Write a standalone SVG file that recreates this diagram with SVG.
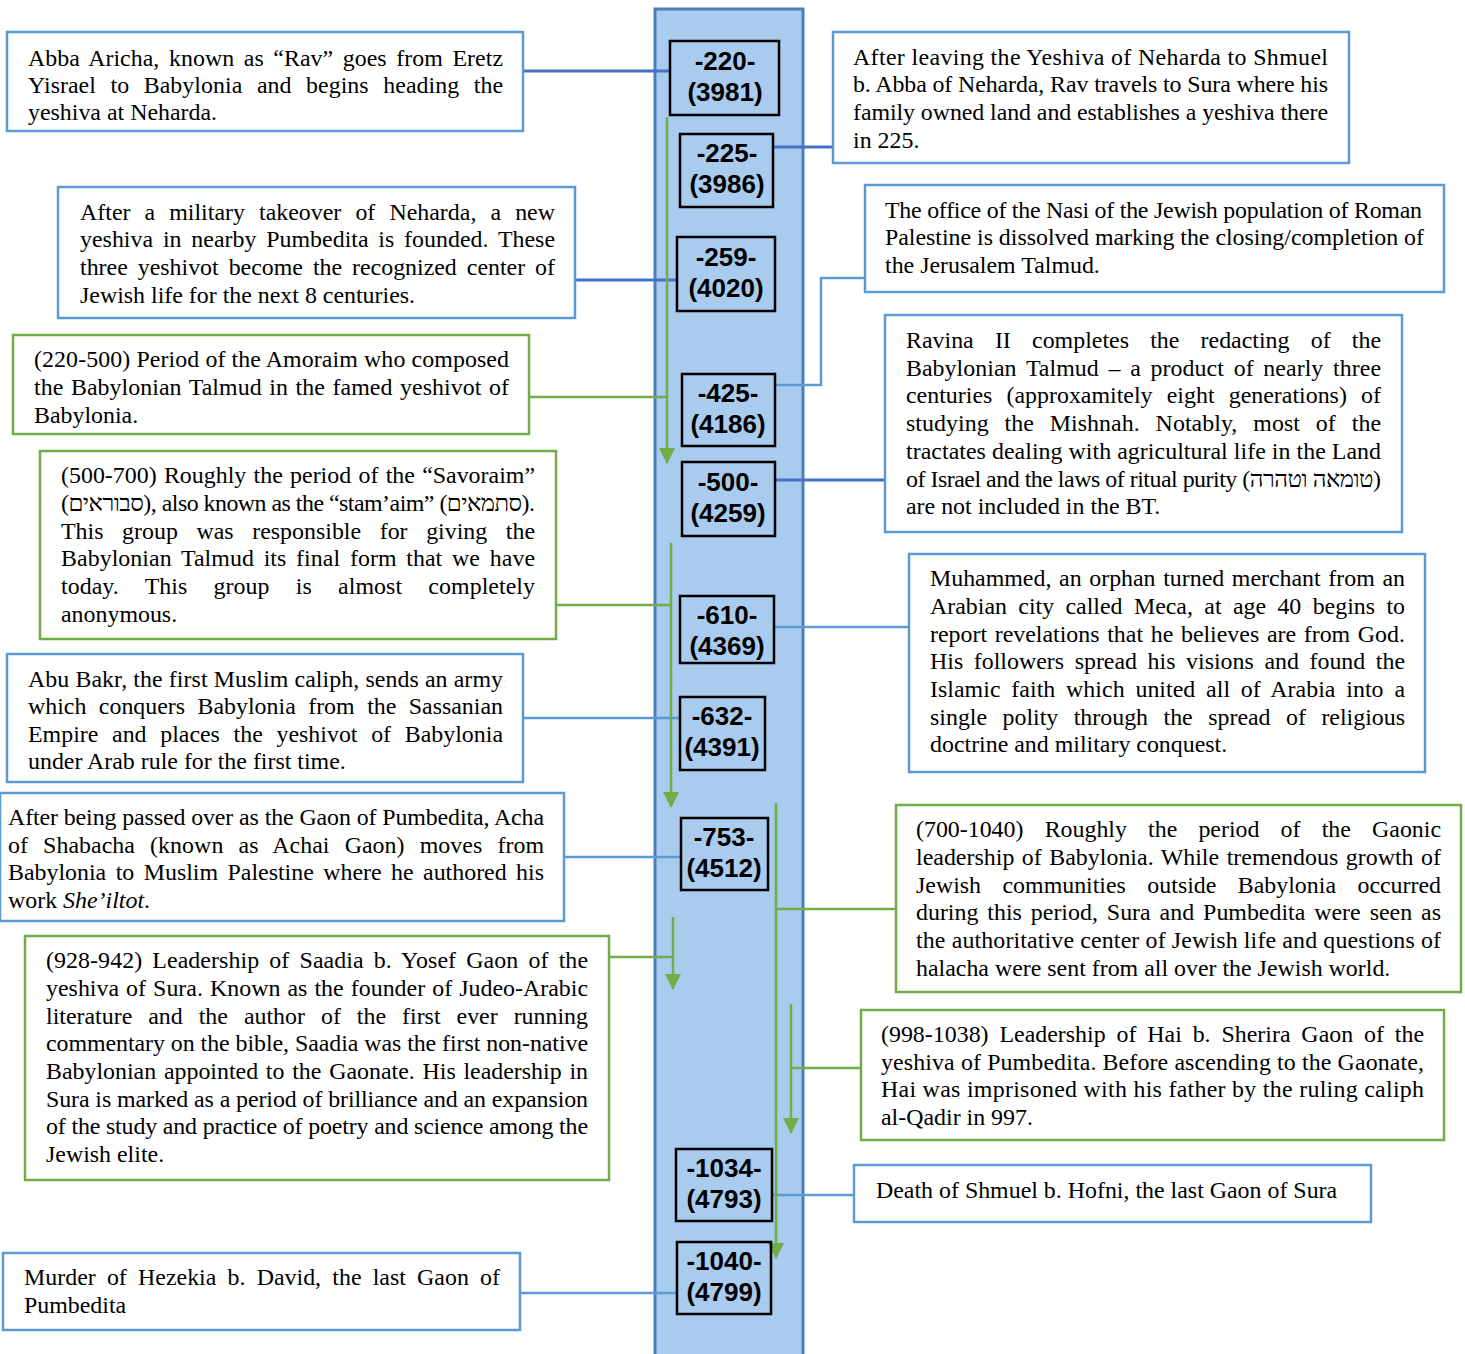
<svg xmlns="http://www.w3.org/2000/svg" width="1465" height="1354" viewBox="0 0 1465 1354">
<defs>
<style>
.t{font-family:"Liberation Serif","DejaVu Serif",serif;font-size:23.9px;fill:#000}
.d{font-family:"Liberation Sans","DejaVu Sans",sans-serif;font-size:26px;font-weight:bold;fill:#000;text-anchor:middle}
.bb{fill:#fff;stroke:#5B9BD5;stroke-width:2.5}
.gb{fill:#fff;stroke:#70AD47;stroke-width:2.5}
.db{fill:none;stroke:#000;stroke-width:2.5}
.cd{fill:none;stroke:#4472C4;stroke-width:3}
.cl{fill:none;stroke:#5B9BD5;stroke-width:2.5}
.cg{fill:none;stroke:#70AD47;stroke-width:2.5}
.ca{fill:none;stroke:#70AD47;stroke-width:2.5;marker-end:url(#ga)}
</style>
<marker id="ga" markerUnits="userSpaceOnUse" viewBox="0 0 16 16" markerWidth="16" markerHeight="16" refX="15" refY="8" orient="auto">
<path d="M0,0 L16,8 L0,16 z" fill="#70AD47"/>
</marker>
</defs>

<rect id="timeline" x="655" y="9" width="148" height="1360" fill="#A9CBEE" stroke="#4A7EBB" stroke-width="3"/>

<g id="connectors">
<line class="cd" x1="523" y1="71" x2="670" y2="71"/>
<line class="cd" x1="773" y1="147" x2="833" y2="147"/>
<line class="cd" x1="575" y1="280" x2="677" y2="280"/>
<polyline class="cl" points="775,385 821,385 821,278 865,278"/>
<line class="cd" x1="775" y1="480" x2="885" y2="480"/>
<line class="cl" x1="775" y1="627" x2="909" y2="627"/>
<line class="cl" x1="523" y1="718" x2="680" y2="718"/>
<line class="cl" x1="564" y1="857" x2="681" y2="857"/>
<line class="cl" x1="772" y1="1195" x2="854" y2="1195"/>
<line class="cl" x1="520" y1="1293" x2="677" y2="1293"/>
<line class="cg" x1="529" y1="397" x2="667" y2="397"/>
<line class="ca" x1="667" y1="117" x2="667" y2="463"/>
<line class="cg" x1="556" y1="605" x2="671" y2="605"/>
<line class="ca" x1="671" y1="543" x2="671" y2="807"/>
<line class="cg" x1="609" y1="957" x2="673" y2="957"/>
<line class="ca" x1="673" y1="917" x2="673" y2="989"/>
<line class="cg" x1="776" y1="909" x2="896" y2="909"/>
<line class="ca" x1="776" y1="803" x2="776" y2="1258"/>
<line class="cg" x1="791" y1="1068" x2="861" y2="1068"/>
<line class="ca" x1="791" y1="1004" x2="791" y2="1133"/>
</g>

<g id="d220"><rect class="db" x="670" y="41" width="109" height="74"/><text class="d" x="725" y="70">-220-</text><text class="d" x="725" y="101">(3981)</text></g>
<g id="d225"><rect class="db" x="680" y="134" width="93" height="73"/><text class="d" x="727" y="162">-225-</text><text class="d" x="727" y="193">(3986)</text></g>
<g id="d259"><rect class="db" x="677" y="237" width="98" height="74"/><text class="d" x="726" y="266">-259-</text><text class="d" x="726" y="297">(4020)</text></g>
<g id="d425"><rect class="db" x="682" y="374" width="93" height="72"/><text class="d" x="728" y="402">-425-</text><text class="d" x="728" y="433">(4186)</text></g>
<g id="d500"><rect class="db" x="682" y="462" width="93" height="74"/><text class="d" x="728" y="491">-500-</text><text class="d" x="728" y="522">(4259)</text></g>
<g id="d610"><rect class="db" x="680" y="596" width="94" height="67"/><text class="d" x="727" y="624">-610-</text><text class="d" x="727" y="655">(4369)</text></g>
<g id="d632"><rect class="db" x="680" y="697" width="85" height="73"/><text class="d" x="722" y="725">-632-</text><text class="d" x="722" y="756">(4391)</text></g>
<g id="d753"><rect class="db" x="681" y="818" width="87" height="72"/><text class="d" x="724" y="846">-753-</text><text class="d" x="724" y="877">(4512)</text></g>
<g id="d1034"><rect class="db" x="676" y="1149" width="96" height="72"/><text class="d" x="724" y="1177">-1034-</text><text class="d" x="724" y="1208">(4793)</text></g>
<g id="d1040"><rect class="db" x="677" y="1242" width="94" height="72"/><text class="d" x="724" y="1270">-1040-</text><text class="d" x="724" y="1301">(4799)</text></g>

<g id="n-abba"><rect class="bb" x="7" y="32" width="516" height="99"/>
<text class="t" x="28" y="66" textLength="475" lengthAdjust="spacing" style="word-spacing:3.6px">Abba Aricha, known as “Rav” goes from Eretz</text>
<text class="t" x="28" y="93" textLength="475" lengthAdjust="spacing" style="word-spacing:8.6px">Yisrael to Babylonia and begins heading the</text>
<text class="t" x="28" y="120">yeshiva at Neharda.</text></g>

<g id="n-225"><rect class="bb" x="833" y="32" width="516" height="131"/>
<text class="t" x="853" y="65" textLength="475" lengthAdjust="spacing">After leaving the Yeshiva of Neharda to Shmuel</text>
<text class="t" x="853" y="92" textLength="475" lengthAdjust="spacing">b. Abba of Neharda, Rav travels to Sura where his</text>
<text class="t" x="853" y="120" textLength="475" lengthAdjust="spacing">family owned land and establishes a yeshiva there</text>
<text class="t" x="853" y="148">in 225.</text></g>

<g id="n-259"><rect class="bb" x="58" y="187" width="517" height="131"/>
<text class="t" x="80" y="220" textLength="475" lengthAdjust="spacing" style="word-spacing:8.1px">After a military takeover of Neharda, a new</text>
<text class="t" x="80" y="247" textLength="475" lengthAdjust="spacing" style="word-spacing:3.8px">yeshiva in nearby Pumbedita is founded. These</text>
<text class="t" x="80" y="275" textLength="475" lengthAdjust="spacing" style="word-spacing:4px">three yeshivot become the recognized center of</text>
<text class="t" x="80" y="303">Jewish life for the next 8 centuries.</text></g>

<g id="n-nasi"><rect class="bb" x="865" y="185" width="579" height="107"/>
<text class="t" x="885" y="218" textLength="537" lengthAdjust="spacing">The office of the Nasi of the Jewish population of Roman</text>
<text class="t" x="885" y="245" textLength="539" lengthAdjust="spacing">Palestine is dissolved marking the closing/completion of</text>
<text class="t" x="885" y="273">the Jerusalem Talmud.</text></g>

<g id="n-amoraim"><rect class="gb" x="13" y="335" width="516" height="99"/>
<text class="t" x="34" y="367" textLength="475" lengthAdjust="spacing">(220-500) Period of the Amoraim who composed</text>
<text class="t" x="34" y="395" textLength="475" lengthAdjust="spacing" style="word-spacing:1.6px">the Babylonian Talmud in the famed yeshivot of</text>
<text class="t" x="34" y="423">Babylonia.</text></g>

<g id="n-ravina"><rect class="bb" x="885" y="315" width="517" height="217"/>
<text class="t" x="906" y="348" textLength="475" lengthAdjust="spacing" style="word-spacing:15.2px">Ravina II completes the redacting of the</text>
<text class="t" x="906" y="376" textLength="475" lengthAdjust="spacing" style="word-spacing:3.7px">Babylonian Talmud – a product of nearly three</text>
<text class="t" x="906" y="403" textLength="475" lengthAdjust="spacing" style="word-spacing:8.2px">centuries (approxamitely eight generations) of</text>
<text class="t" x="906" y="431" textLength="475" lengthAdjust="spacing" style="word-spacing:9.9px">studying the Mishnah. Notably, most of the</text>
<text class="t" x="906" y="459" textLength="475" lengthAdjust="spacing">tractates dealing with agricultural life in the Land</text>
<text class="t" x="906" y="487" textLength="475" lengthAdjust="spacing">of Israel and the laws of ritual purity (טומאה וטהרה)</text>
<text class="t" x="906" y="514">are not included in the BT.</text></g>

<g id="n-savoraim"><rect class="gb" x="40" y="451" width="516" height="188"/>
<text class="t" x="61" y="483" textLength="474" lengthAdjust="spacing" style="word-spacing:1.3px">(500-700) Roughly the period of the “Savoraim”</text>
<text class="t" x="61" y="511" textLength="474" lengthAdjust="spacing">(סבוראים), also known as the “stam’aim” (סתמאים).</text>
<text class="t" x="61" y="539" textLength="474" lengthAdjust="spacing" style="word-spacing:12.6px">This group was responsible for giving the</text>
<text class="t" x="61" y="566" textLength="474" lengthAdjust="spacing" style="word-spacing:3.7px">Babylonian Talmud its final form that we have</text>
<text class="t" x="61" y="594" textLength="474" lengthAdjust="spacing" style="word-spacing:20.2px">today. This group is almost completely</text>
<text class="t" x="61" y="622">anonymous.</text></g>

<g id="n-muhammed"><rect class="bb" x="909" y="554" width="516" height="218"/>
<text class="t" x="930" y="586" textLength="475" lengthAdjust="spacing" style="word-spacing:1.7px">Muhammed, an orphan turned merchant from an</text>
<text class="t" x="930" y="614" textLength="475" lengthAdjust="spacing" style="word-spacing:5.4px">Arabian city called Meca, at age 40 begins to</text>
<text class="t" x="930" y="642" textLength="475" lengthAdjust="spacing" style="word-spacing:1.7px">report revelations that he believes are from God.</text>
<text class="t" x="930" y="669" textLength="475" lengthAdjust="spacing" style="word-spacing:4.6px">His followers spread his visions and found the</text>
<text class="t" x="930" y="697" textLength="475" lengthAdjust="spacing" style="word-spacing:4.8px">Islamic faith which united all of Arabia into a</text>
<text class="t" x="930" y="725" textLength="475" lengthAdjust="spacing" style="word-spacing:9.5px">single polity through the spread of religious</text>
<text class="t" x="930" y="752">doctrine and military conquest.</text></g>

<g id="n-abubakr"><rect class="bb" x="7" y="654" width="516" height="128"/>
<text class="t" x="28" y="687" textLength="475" lengthAdjust="spacing">Abu Bakr, the first Muslim caliph, sends an army</text>
<text class="t" x="28" y="714" textLength="475" lengthAdjust="spacing" style="word-spacing:6.5px">which conquers Babylonia from the Sassanian</text>
<text class="t" x="28" y="742" textLength="475" lengthAdjust="spacing" style="word-spacing:7.7px">Empire and places the yeshivot of Babylonia</text>
<text class="t" x="28" y="769">under Arab rule for the first time.</text></g>

<g id="n-acha"><rect class="bb" x="0" y="793" width="564" height="128"/>
<text class="t" x="8" y="825" textLength="536" lengthAdjust="spacing">After being passed over as the Gaon of Pumbedita, Acha</text>
<text class="t" x="8" y="853" textLength="536" lengthAdjust="spacing" style="word-spacing:9.1px">of Shabacha (known as Achai Gaon) moves from</text>
<text class="t" x="8" y="880" textLength="536" lengthAdjust="spacing" style="word-spacing:3.5px">Babylonia to Muslim Palestine where he authored his</text>
<text class="t" x="8" y="908">work <tspan font-style="italic">She’iltot</tspan>.</text></g>

<g id="n-gaonic"><rect class="gb" x="896" y="805" width="565" height="187"/>
<text class="t" x="916" y="837" textLength="525" lengthAdjust="spacing" style="word-spacing:15.2px">(700-1040) Roughly the period of the Gaonic</text>
<text class="t" x="916" y="865" textLength="525" lengthAdjust="spacing" style="word-spacing:1.5px">leadership of Babylonia. While tremendous growth of</text>
<text class="t" x="916" y="893" textLength="525" lengthAdjust="spacing" style="word-spacing:15.5px">Jewish communities outside Babylonia occurred</text>
<text class="t" x="916" y="920" textLength="525" lengthAdjust="spacing" style="word-spacing:3px">during this period, Sura and Pumbedita were seen as</text>
<text class="t" x="916" y="948" textLength="525" lengthAdjust="spacing">the authoritative center of Jewish life and questions of</text>
<text class="t" x="916" y="976">halacha were sent from all over the Jewish world.</text></g>

<g id="n-saadia"><rect class="gb" x="25" y="936" width="584" height="244"/>
<text class="t" x="46" y="968" textLength="542" lengthAdjust="spacing" style="word-spacing:4.1px">(928-942) Leadership of Saadia b. Yosef Gaon of the</text>
<text class="t" x="46" y="996" textLength="542" lengthAdjust="spacing" style="word-spacing:1.1px">yeshiva of Sura. Known as the founder of Judeo-Arabic</text>
<text class="t" x="46" y="1024" textLength="542" lengthAdjust="spacing" style="word-spacing:10px">literature and the author of the first ever running</text>
<text class="t" x="46" y="1051" textLength="542" lengthAdjust="spacing">commentary on the bible, Saadia was the first non-native</text>
<text class="t" x="46" y="1079" textLength="542" lengthAdjust="spacing" style="word-spacing:1.8px">Babylonian appointed to the Gaonate. His leadership in</text>
<text class="t" x="46" y="1107" textLength="542" lengthAdjust="spacing">Sura is marked as a period of brilliance and an expansion</text>
<text class="t" x="46" y="1134" textLength="542" lengthAdjust="spacing">of the study and practice of poetry and science among the</text>
<text class="t" x="46" y="1162">Jewish elite.</text></g>

<g id="n-hai"><rect class="gb" x="861" y="1010" width="583" height="130"/>
<text class="t" x="881" y="1042" textLength="543" lengthAdjust="spacing" style="word-spacing:4.9px">(998-1038) Leadership of Hai b. Sherira Gaon of the</text>
<text class="t" x="881" y="1070" textLength="543" lengthAdjust="spacing">yeshiva of Pumbedita. Before ascending to the Gaonate,</text>
<text class="t" x="881" y="1097" textLength="543" lengthAdjust="spacing">Hai was imprisoned with his father by the ruling caliph</text>
<text class="t" x="881" y="1125">al-Qadir in 997.</text></g>

<g id="n-hofni"><rect class="bb" x="854" y="1165" width="517" height="57"/>
<text class="t" x="876" y="1198">Death of Shmuel b. Hofni, the last Gaon of Sura</text></g>

<g id="n-hezekia"><rect class="bb" x="3" y="1253" width="517" height="77"/>
<text class="t" x="24" y="1285" textLength="476" lengthAdjust="spacing" style="word-spacing:5.2px">Murder of Hezekia b. David, the last Gaon of</text>
<text class="t" x="24" y="1313">Pumbedita</text></g>
</svg>
